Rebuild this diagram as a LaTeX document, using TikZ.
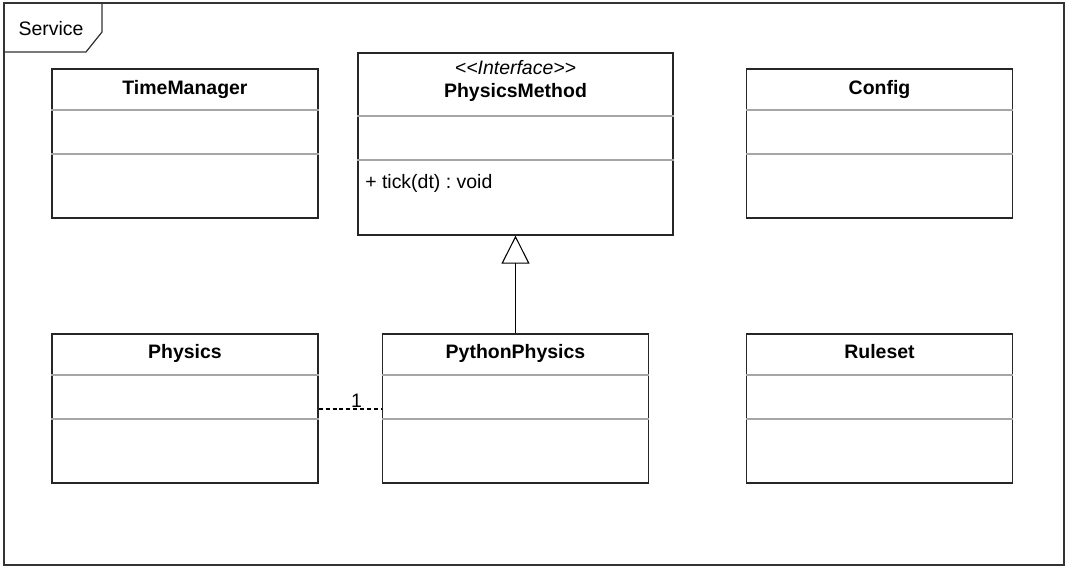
\documentclass[tikz,border=0pt]{standalone}
\usepackage{fontspec}
\setmainfont{Liberation Sans}[Ligatures=TeXOff]
\usetikzlibrary{arrows.meta}
\frenchspacing

\begin{document}
\begin{tikzpicture}[x=0.75pt,y=-0.75pt,
    font=\fontsize{14.6}{17}\selectfont,
    umlclass/.style={draw=black!85,line width=1pt,minimum width=199.5pt,minimum height=111.75pt,inner sep=0pt},
    title/.style={font=\fontsize{14.6}{17}\selectfont\bfseries,inner sep=0pt,anchor=base},
    divider/.style={draw=black!35,line width=0.8pt},
    frameline/.style={draw=black!80,line width=0.9pt},
    realize/.style={-{Triangle[open,width=21pt,length=21pt]},line width=0.8pt},
    assoc/.style={dash pattern=on 3pt off 2.2pt,line width=0.8pt}]
  \useasboundingbox (0,0) rectangle (1068,570);
  % frame with its tab
  \draw[frameline] (4,3) rectangle (1064,565);
  \draw[frameline] (4,52) -- (86,52) -- (102,32) -- (102,3);
  \node[inner sep=0pt] (svc) at (51,29) {Service};

  % top row
  \node[umlclass] (tm) at (185,143.5) {};
  \node[title] (tmtitle) at (185,94.5) {TimeManager};
  \draw[divider] (tm.west |- 0,110) -- (tm.east |- 0,110);
  \draw[divider] (tm.west |- 0,154) -- (tm.east |- 0,154);

  \node[umlclass,minimum width=236.25pt,minimum height=136.5pt] (pm) at (515.5,144) {};
  \node[inner sep=0pt,anchor=base,font=\fontsize{14.6}{17}\selectfont\itshape] (pmstereo) at (515.5,75) {<<Interface>>};
  \node[title] (pmtitle) at (515.5,98) {PhysicsMethod};
  \draw[divider] (pm.west |- 0,116) -- (pm.east |- 0,116);
  \draw[divider] (pm.west |- 0,160) -- (pm.east |- 0,160);
  \node[anchor=west,inner sep=0pt] (tick) at (365,183) {+ tick(dt) : void};

  \node[umlclass] (cfg) at (879.5,143.5) {};
  \node[title] (cfgtitle) at (879.5,94.5) {Config};
  \draw[divider] (cfg.west |- 0,110) -- (cfg.east |- 0,110);
  \draw[divider] (cfg.west |- 0,154) -- (cfg.east |- 0,154);

  % bottom row
  \node[umlclass] (phy) at (185,408.5) {};
  \node[title] (phytitle) at (185,358.5) {Physics};
  \draw[divider] (phy.west |- 0,375) -- (phy.east |- 0,375);
  \draw[divider] (phy.west |- 0,419) -- (phy.east |- 0,419);

  \node[umlclass] (pp) at (515.5,408.5) {};
  \node[title] (pptitle) at (515.5,358.5) {PythonPhysics};
  \draw[divider] (pp.west |- 0,375) -- (pp.east |- 0,375);
  \draw[divider] (pp.west |- 0,419) -- (pp.east |- 0,419);

  \node[umlclass] (rs) at (879.5,408.5) {};
  \node[title] (rstitle) at (879.5,358.5) {Ruleset};
  \draw[divider] (rs.west |- 0,375) -- (rs.east |- 0,375);
  \draw[divider] (rs.west |- 0,419) -- (rs.east |- 0,419);

  % relations
  \draw[realize] (pp.north) -- (pm.south);
  \draw[assoc] (phy.east |- 0,409) -- node[pos=0.6,above,inner sep=1pt]{1} (pp.west |- 0,409);
\end{tikzpicture}
\end{document}
